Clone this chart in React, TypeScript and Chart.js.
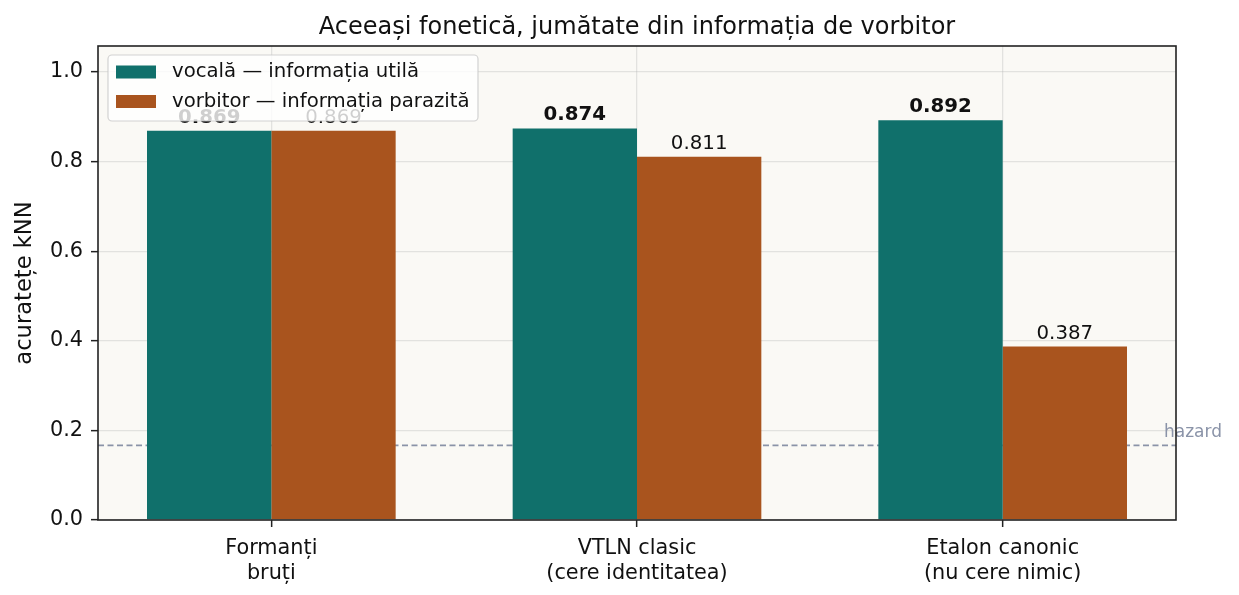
import { useEffect, useRef } from 'react'
import { Chart, registerables } from 'chart.js'

Chart.register(...registerables)

const CATEGORIES = [
  ['Formanți', 'bruți'],
  ['VTLN clasic', '(cere identitatea)'],
  ['Etalon canonic', '(nu cere nimic)'],
]
const VOCALA = [0.869, 0.874, 0.892]
const VORBITOR = [0.869, 0.811, 0.387]
const SERIES_NAMES = ['vocală — informația utilă', 'vorbitor — informația parazită']
const Y_TICKS = [0, 0.2, 0.4, 0.6, 0.8, 1.0]
const X_TICKS = [0, 1, 2]
const HAZARD = 1 / 6

const TEAL = '#10706b'
const RUST = '#a9541e'
const FONT = '"DejaVu Sans", sans-serif'
const HAZARD_COLOR = '#8a93a8'

const backgroundPlugin = {
  id: 'plotBackground',
  beforeDraw(chart: Chart) {
    const { ctx, chartArea: a } = chart
    ctx.save()
    ctx.fillStyle = '#ffffff'
    ctx.fillRect(0, 0, chart.width, chart.height)
    ctx.fillStyle = '#faf9f5'
    ctx.fillRect(a.left, a.top, a.right - a.left, a.bottom - a.top)
    ctx.restore()
  },
}

const hazardPlugin = {
  id: 'hazardLine',
  beforeDatasetsDraw(chart: Chart) {
    const { ctx, chartArea: a, scales } = chart
    const y = scales.y.getPixelForValue(HAZARD)
    ctx.save()
    ctx.strokeStyle = HAZARD_COLOR
    ctx.lineWidth = 1.6
    ctx.setLineDash([6, 3.5])
    ctx.beginPath()
    ctx.moveTo(a.left, y)
    ctx.lineTo(a.right, y)
    ctx.stroke()
    ctx.setLineDash([])
    ctx.fillStyle = HAZARD_COLOR
    ctx.font = `17px ${FONT}`
    ctx.textAlign = 'left'
    ctx.textBaseline = 'alphabetic'
    ctx.fillText('hazard', a.right - 12, y - 8)
    ctx.restore()
  },
}

const valueLabelPlugin = {
  id: 'valueLabels',
  afterDatasetsDraw(chart: Chart) {
    const { ctx } = chart
    ctx.save()
    ctx.textAlign = 'center'
    ctx.textBaseline = 'alphabetic'
    ctx.fillStyle = '#111111'
    chart.data.datasets.forEach((ds, di) => {
      const meta = chart.getDatasetMeta(di)
      ctx.font = `${di === 0 ? 'bold ' : ''}19.8px ${FONT}`
      meta.data.forEach((el: any, i) => {
        const v = (ds.data[i] as any).y as number
        ctx.fillText(v.toFixed(3), el.x, el.y - 8)
      })
    })
    ctx.restore()
  },
}

const overlayPlugin = {
  id: 'overlay',
  afterDraw(chart: Chart) {
    const { ctx, chartArea: a } = chart
    ctx.save()

    // frame
    ctx.strokeStyle = '#222222'
    ctx.lineWidth = 1.6
    ctx.strokeRect(a.left, a.top, a.right - a.left, a.bottom - a.top)

    // title
    ctx.fillStyle = '#111111'
    ctx.font = `24px ${FONT}`
    ctx.textAlign = 'center'
    ctx.textBaseline = 'alphabetic'
    ctx.fillText('Aceeași fonetică, jumătate din informația de vorbitor', (a.left + a.right) / 2, 34)

    // legend
    const bx = 108
    const by = 55
    ctx.beginPath()
    ctx.roundRect(bx, by, 370, 66, 4)
    ctx.fillStyle = 'rgba(255,255,255,0.8)'
    ctx.fill()
    ctx.strokeStyle = 'rgba(200,200,200,0.8)'
    ctx.lineWidth = 1.2
    ctx.stroke()
    const colors = [TEAL, RUST]
    ctx.font = `19.7px ${FONT}`
    ctx.textAlign = 'left'
    ctx.textBaseline = 'middle'
    SERIES_NAMES.forEach((name, i) => {
      const cy = 72 + i * 29.5
      ctx.fillStyle = colors[i]
      ctx.fillRect(116, cy - 6.5, 40, 13)
      ctx.fillStyle = '#111111'
      ctx.fillText(name, 172, cy)
    })
    ctx.restore()
  },
}

export default function App() {
  const canvasRef = useRef<HTMLCanvasElement>(null)
  const chartRef = useRef<Chart | null>(null)

  useEffect(() => {
    document.body.style.margin = '0'
    if (!canvasRef.current) return
    if (chartRef.current) chartRef.current.destroy()

    const gridColor = 'rgba(176,176,176,0.32)'

    chartRef.current = new Chart(canvasRef.current, {
      type: 'bar',
      data: {
        datasets: [
          {
            label: SERIES_NAMES[0],
            data: VOCALA.map((v, i) => ({ x: i, y: v })),
            backgroundColor: TEAL,
            borderWidth: 0,
          },
          {
            label: SERIES_NAMES[1],
            data: VORBITOR.map((v, i) => ({ x: i, y: v })),
            backgroundColor: RUST,
            borderWidth: 0,
          },
        ],
      },
      options: {
        responsive: false,
        animation: false,
        events: [],
        datasets: { bar: { categoryPercentage: 0.68, barPercentage: 1 } },
        layout: { padding: { top: 46, right: 63, bottom: 0, left: 0 } },
        plugins: {
          legend: { display: false },
          title: { display: false },
          tooltip: { enabled: false },
        },
        scales: {
          x: {
            type: 'linear',
            min: -0.474,
            max: 2.474,
            offset: false,
            z: 1,
            afterBuildTicks: (s: any) => {
              s.ticks = X_TICKS.map((v) => ({ value: v }))
            },
            afterFit: (s: any) => {
              s.height = 75
            },
            grid: {
              color: gridColor,
              lineWidth: 1.3,
              tickLength: 7,
              tickColor: '#222222',
              tickWidth: 1.5,
              offset: false,
            },
            border: { display: false },
            ticks: {
              autoSkip: false,
              maxRotation: 0,
              padding: 10,
              color: '#111111',
              font: { family: FONT, size: 20.8, lineHeight: 1.16 },
              callback: (value: any) => CATEGORIES[value as number] ?? '',
            },
          },
          y: {
            min: 0,
            max: 1.058,
            z: 1,
            afterBuildTicks: (s: any) => {
              s.ticks = Y_TICKS.map((v) => ({ value: v }))
            },
            afterFit: (s: any) => {
              s.width = 98
            },
            grid: {
              color: gridColor,
              lineWidth: 1.3,
              tickLength: 7,
              tickColor: '#222222',
              tickWidth: 1.5,
            },
            border: { display: false },
            ticks: {
              padding: 8,
              color: '#111111',
              font: { family: FONT, size: 20.8 },
              callback: (value: any) => Number(value).toFixed(1),
            },
            title: {
              display: true,
              text: 'acuratețe kNN',
              color: '#111111',
              font: { family: FONT, size: 22.6 },
              padding: { top: 11.5, bottom: 0 },
            },
          },
        },
      },
      plugins: [backgroundPlugin, hazardPlugin, valueLabelPlugin, overlayPlugin],
    } as any)

    return () => {
      if (chartRef.current) {
        chartRef.current.destroy()
        chartRef.current = null
      }
    }
  }, [])

  return (
    <div style={{ width: 1239, height: 595 }}>
      <canvas ref={canvasRef} width={1239} height={595} />
    </div>
  )
}
